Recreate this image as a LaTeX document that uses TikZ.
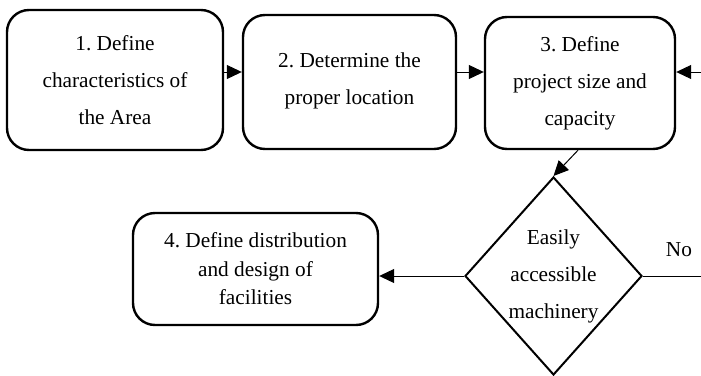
\documentclass[tikz,border=0pt]{standalone}
\usepackage{fontspec}
\setmainfont{Liberation Serif}
\usetikzlibrary{arrows.meta,shapes.geometric}
\frenchspacing
\begin{document}
\begin{tikzpicture}[x=1pt,y=-1pt,
  stepbox/.style={draw,line width=2.4pt,rounded corners=22pt,align=center,inner sep=0pt,
    font=\fontsize{21.3}{37}\selectfont},
  decision/.style={draw,diamond,line width=2pt,inner sep=0pt},
  conn/.style={line width=1pt},
  arr/.style={conn,-{Triangle[length=15pt,width=14pt]}},
  lbl/.style={align=center,inner sep=0pt,font=\fontsize{21.3}{37}\selectfont}]
\useasboundingbox (0,0) rectangle (701,375);
\node[stepbox,minimum width=216pt,minimum height=140pt] (b1) at (115,80) {1. Define\\characteristics of\\the Area};
\node[stepbox,minimum width=213pt,minimum height=134pt] (b2) at (349.5,82) {2. Determine the\\proper location\\[-30pt]};
\node[stepbox,minimum width=190pt,minimum height=132pt] (b3) at (580,83) {3. Define\\project size and\\capacity};
\node[stepbox,minimum width=245pt,minimum height=112pt,font=\fontsize{21.3}{28.5}\selectfont] (b4) at (255.5,269) {4. Define distribution\\and design of\\facilities};
\node[decision,minimum width=177pt,minimum height=198pt] (dia) at (553.5,276) {};
\node[lbl] (diat) at (553.5,276) {Easily\\accessible\\machinery};
\node[lbl] (no) at (679,250) {No};
\coordinate (r72) at (0,72);
\coordinate (rin) at (701,72);
\coordinate (rout) at (701,276);
\draw[arr] (b1.east |- r72) -- (b2.west |- r72);
\draw[arr] (b2.east |- r72) -- (b3.west |- r72);
\draw[arr] (rin) -- (b3.east |- rin);
\draw[arr] ([xshift=-2pt]b3.south) -- (dia.north);
\draw[arr] (dia.west) -- (b4.east |- dia.west);
\draw[conn] (dia.east) -- (rout);
\end{tikzpicture}
\end{document}
